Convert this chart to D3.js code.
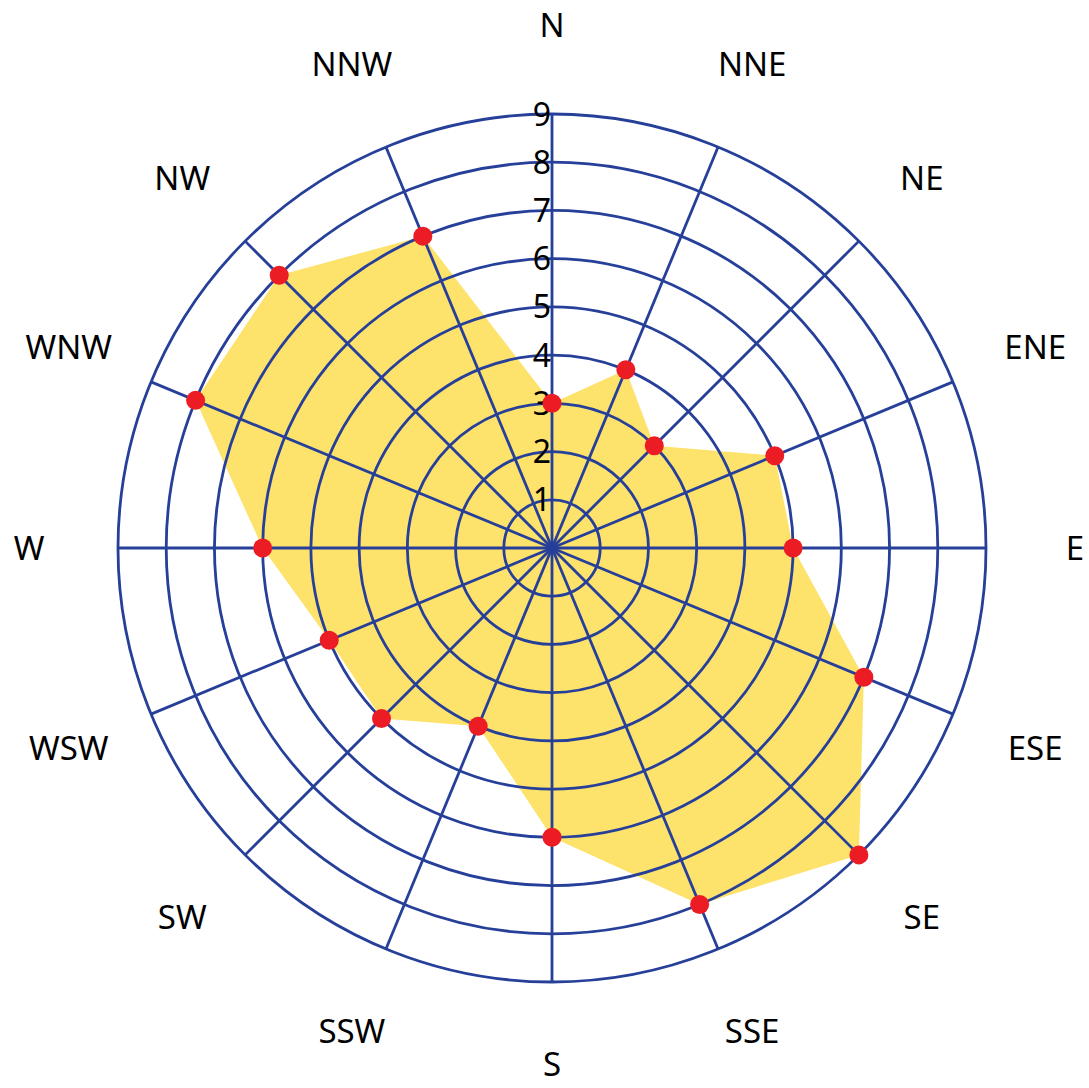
<!DOCTYPE html>
<html>
<head>
<meta charset="utf-8">
<script src="https://cdn.jsdelivr.net/npm/d3@7"></script>
<style>
	body { margin: 0; background: #ffffff; }
	svg { display: block; font-family: "Noto Sans", "Open Sans", sans-serif; }
</style>
</head>
<body>
<svg id="canvas" width="1089" height="1088"></svg>
<script>
var directions = ["N", "NNE", "NE", "ENE", "E", "ESE", "SE", "SSE",
	"S", "SSW", "SW", "WSW", "W", "WNW", "NW", "NNW"];
var values = [3, 4, 3, 5, 5, 7, 9, 8, 6, 4, 5, 5, 6, 8, 8, 7];
var ticks = [1, 2, 3, 4, 5, 6, 7, 8, 9];

function draw(){
	var cx = 552;
	var cy = 548;
	var outer = 434;
	var labelRadius = 523;
	var gridColor = "#263f99";

	var svg = d3.select("#canvas");
	var g = svg.append("g").attr("transform", "translate(" + cx + "," + cy + ")");

	var r = d3.scaleLinear().domain([0, 9]).range([0, outer]);
	var angle = d3.scaleBand().domain(directions).range([0, 2 * Math.PI]).align(0);

	function px(d, v){
		var a = angle(d);
		return [Math.sin(a) * r(v), -Math.cos(a) * r(v)];
	}

	// bottom label sits a little higher so it stays inside the page
	function lr(d){
		return d == "S" ? labelRadius - 7 : labelRadius;
	}

	var pts = directions.map(function(d, i){
		return px(d, values[i]);
	});

	// filled area under the grid
	g.append("path")
		.attr("d", d3.line()(pts) + "Z")
		.attr("fill", "#fde26c")
		.attr("stroke", "none");

	g.selectAll("circle.ring")
		.data(ticks)
		.enter()
		.append("circle")
			.attr("class", "ring")
			.attr("r", function(d){ return r(d); })
			.attr("fill", "none")
			.attr("stroke", gridColor)
			.attr("stroke-width", 2.8);

	g.selectAll("line.spoke")
		.data(directions)
		.enter()
		.append("line")
			.attr("class", "spoke")
			.attr("x1", 0)
			.attr("y1", 0)
			.attr("x2", function(d){ return px(d, 9)[0]; })
			.attr("y2", function(d){ return px(d, 9)[1]; })
			.attr("stroke", gridColor)
			.attr("stroke-width", 2.8);

	g.selectAll("text.tick")
		.data(ticks)
		.enter()
		.append("text")
			.attr("class", "tick")
			.attr("x", -1)
			.attr("y", function(d){ return -r(d); })
			.attr("dy", "0.36em")
			.attr("text-anchor", "end")
			.attr("font-size", 32)
			.attr("fill", "#000")
			.text(function(d){ return d; });

	g.selectAll("text.dir")
		.data(directions)
		.enter()
		.append("text")
			.attr("class", "dir")
			.attr("x", function(d){ return Math.sin(angle(d)) * lr(d); })
			.attr("y", function(d){ return -Math.cos(angle(d)) * lr(d); })
			.attr("dy", "0.35em")
			.attr("text-anchor", "middle")
			.attr("font-size", 33)
			.attr("fill", "#000")
			.text(function(d){ return d; });

	g.selectAll("circle.dot")
		.data(pts)
		.enter()
		.append("circle")
			.attr("class", "dot")
			.attr("cx", function(d){ return d[0]; })
			.attr("cy", function(d){ return d[1]; })
			.attr("r", 9.5)
			.attr("fill", "#ec1c24");
}

draw();
</script>
</body>
</html>
